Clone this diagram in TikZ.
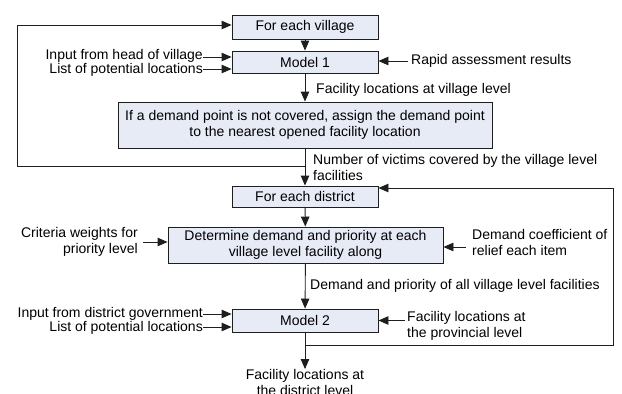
\documentclass[tikz,border=0pt]{standalone}
\usepackage{fontspec}
\setmainfont{Liberation Sans}
\usetikzlibrary{arrows.meta,calc}
\definecolor{boxfill}{RGB}{230,235,245}
\definecolor{lin}{RGB}{30,30,30}
\begin{document}
\begin{tikzpicture}[x=1pt,y=-1pt,
  every node/.style={font=\fontsize{14}{16}\selectfont, text=black},
  procbox/.style={draw=lin, line width=0.9pt, fill=boxfill, minimum width=146pt, inner sep=0pt, align=center},
  lbl/.style={inner sep=0pt},
  tight/.style={inner sep=0pt, font=\fontsize{14}{12.5}\selectfont},
  arr/.style={draw=lin, line width=0.9pt, -{Triangle[length=10pt,width=8.5pt]}},
  ln/.style={draw=lin, line width=0.9pt}]
\useasboundingbox (0,0) rectangle (622,394);
% boxes
\node[procbox, minimum height=24pt] (v) at (305,27) {For each village};
\node[procbox, minimum height=22pt] (m1) at (305,62) {Model 1};
\node[procbox, minimum width=374pt, minimum height=46pt] (big) at (305,125) {If a demand point is not covered, assign the demand point\\to the nearest opened facility location};
\node[procbox, minimum height=21pt] (d) at (305,196.5) {For each district};
\node[procbox, minimum width=275pt, minimum height=36pt] (det) at (305.5,245) {Determine demand and priority at each\\village level facility along};
\node[procbox, minimum height=23pt] (m2) at (305,320.5) {Model 2};
% main flow
\draw[arr] (v) -- (m1);
\draw[arr] (m1) -- (big);
\node[lbl, anchor=west] (l1) at (316,90) {Facility locations at village level};
\draw[arr] (big) -- (d);
\node[lbl, anchor=north west, align=left] (l2) at (313,154) {Number of victims covered by the village level\\facilities};
\coordinate (j1) at (305,166);
\coordinate (c1) at (17,166);
\draw[arr] (j1) -- (c1) |- ([yshift=2pt]v.west);
\draw[arr] (d) -- (det);
\draw[arr] (det) -- (m2);
\node[lbl, anchor=west] (l3) at (310,286) {Demand and priority of all village level facilities};
\coordinate (out) at (305,369);
\draw[arr] (m2) -- (out);
\node[lbl, anchor=north, align=center] (res) at (out) {Facility locations at\\the district level};
\coordinate (j2) at (305,345);
\coordinate (c2) at (613,345);
\draw[arr] (j2) -- (c2) |- ([yshift=8.5pt]d.east);
% side inputs
\node[tight, anchor=east, align=right] (i1) at (203,63) {Input from head of village\\List of potential locations};
\draw[arr] (i1.east |- 0,57) -- (m1.west |- 0,57);
\draw[arr] (i1.east |- 0,69) -- (m1.west |- 0,69);
\node[lbl, anchor=west] (i3) at (411,61) {Rapid assessment results};
\draw[arr] ([xshift=-3pt]i3.west) -- (i3.west -| m1.east);
\node[lbl, anchor=east, align=right] (i4) at (138,242) {Criteria weights for\\priority level};
\draw[arr] ([xshift=5pt]i4.east) -- (i4.east -| det.west);
\node[lbl, anchor=west, align=left] (i5) at (472,242) {Demand coefficient of\\relief each item};
\draw[arr] ([xshift=-6pt]i5.west |- 0,247) -- (det.east |- 0,247);
\node[tight, anchor=east, align=right] (i6) at (203,320.5) {Input from district government\\List of potential locations};
\draw[arr] (i6.east |- 0,314) -- (m2.west |- 0,314);
\draw[arr] (i6.east |- 0,327) -- (m2.west |- 0,327);
\node[lbl, anchor=west, align=left] (i8) at (407,326) {Facility locations at\\the provincial level};
\draw[arr] ([xshift=-2pt]i8.west |- m2.east) -- (m2.east);
\end{tikzpicture}
\end{document}
